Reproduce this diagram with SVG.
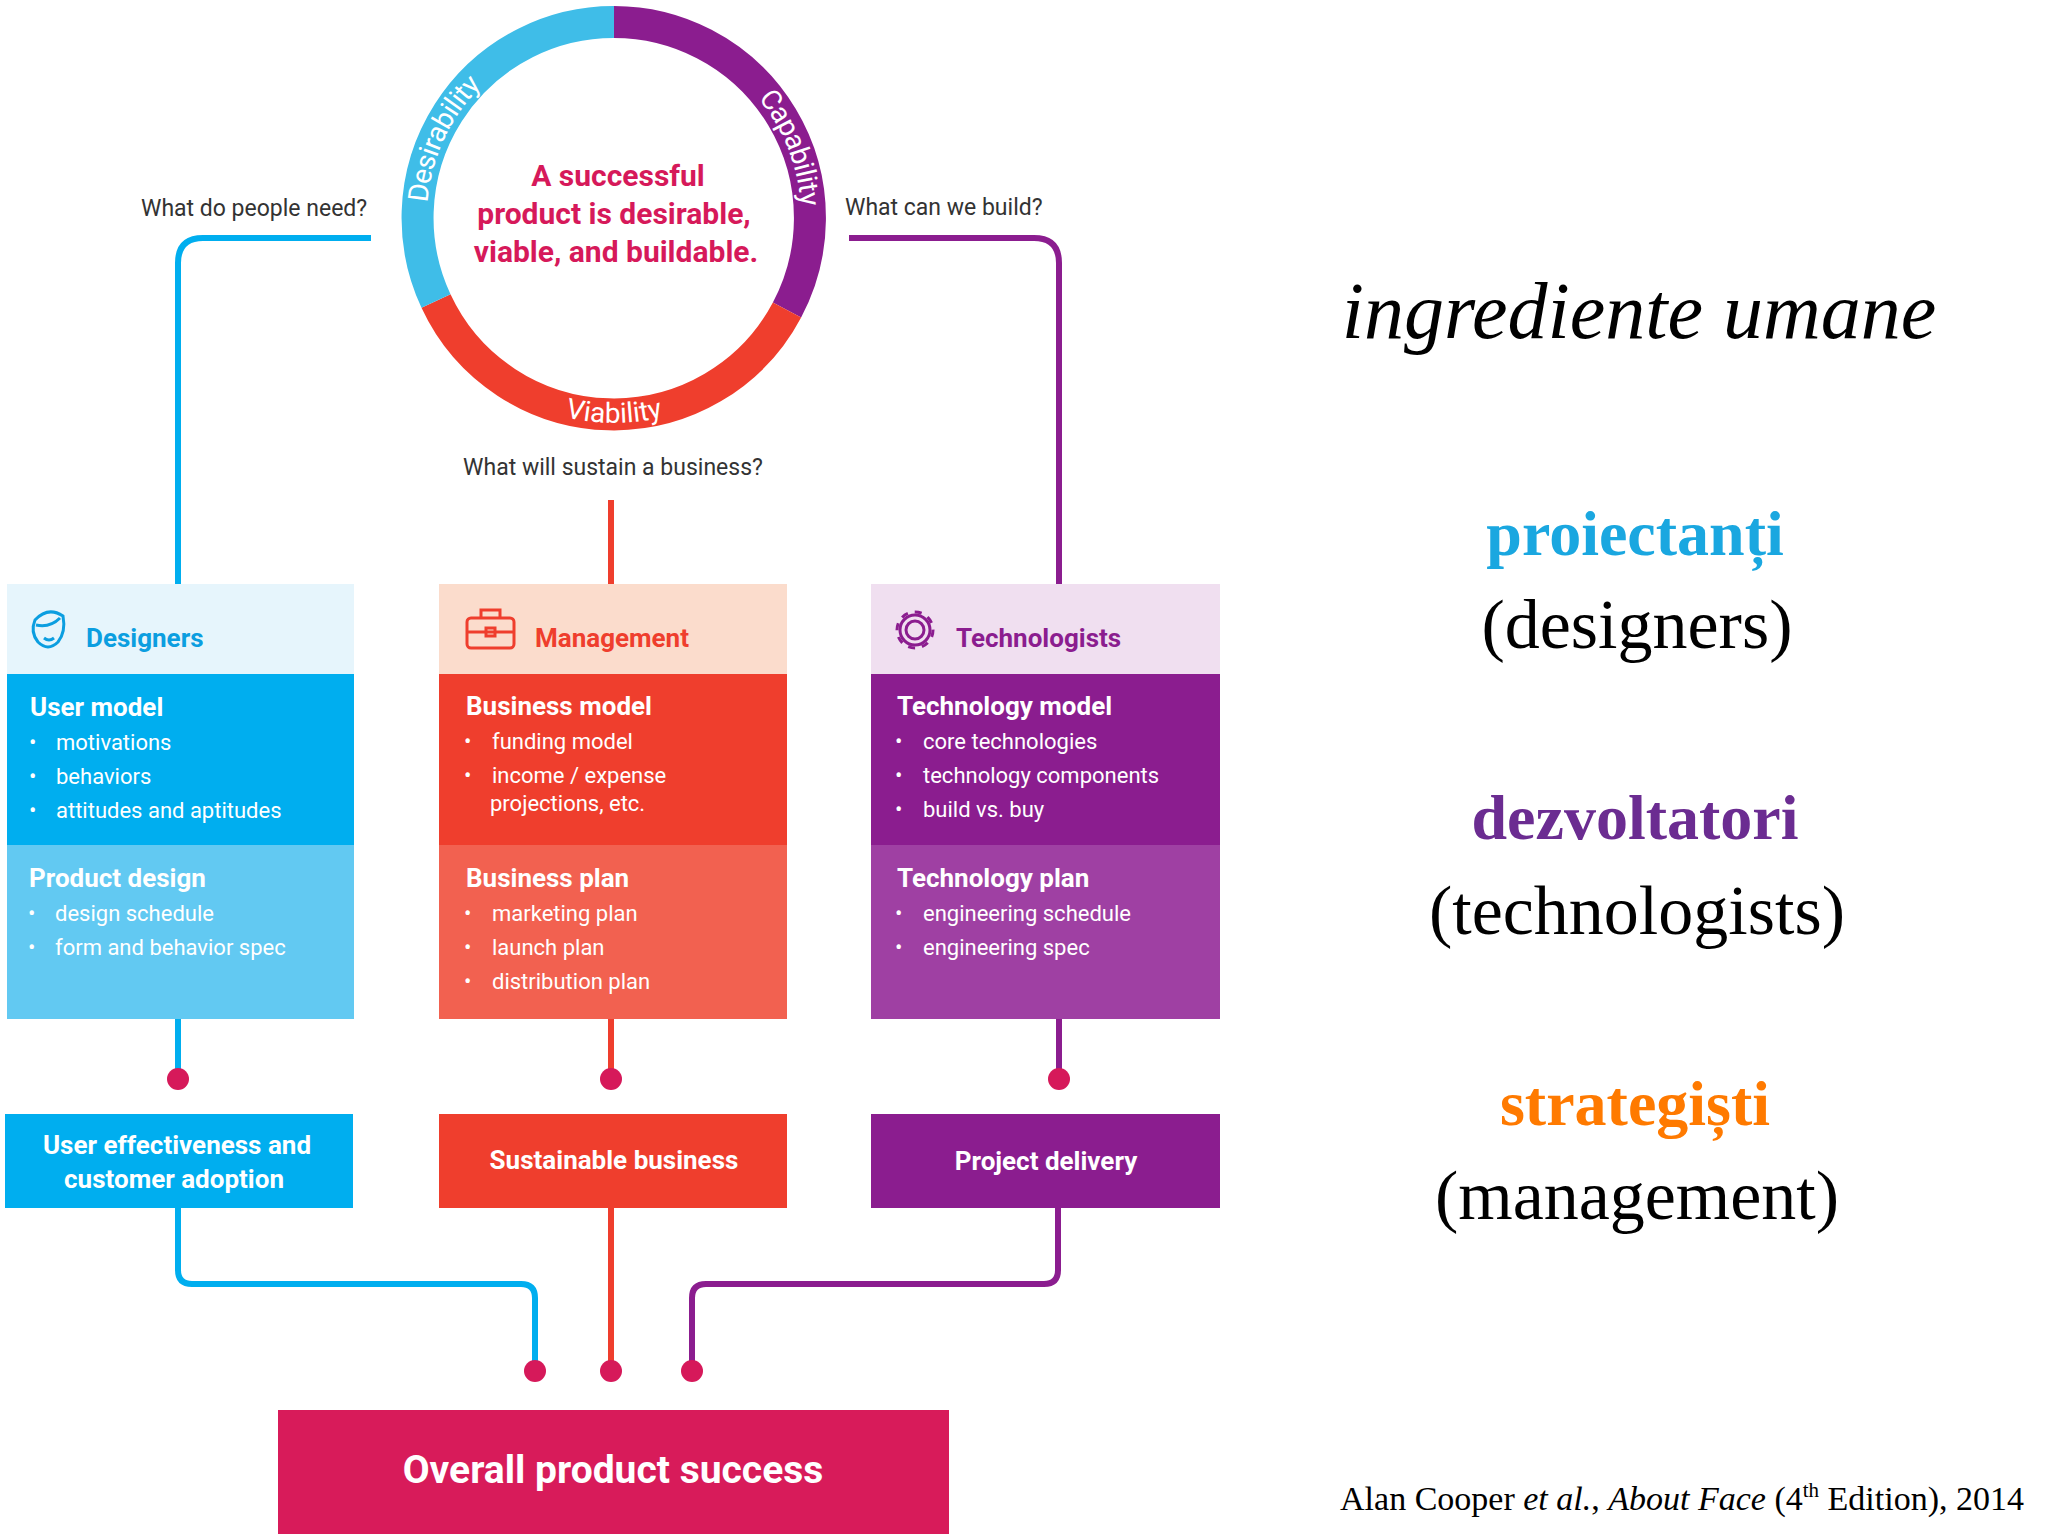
<svg xmlns="http://www.w3.org/2000/svg" xmlns:xlink="http://www.w3.org/1999/xlink" width="2048" height="1536" viewBox="0 0 2048 1536">
<style>
.q{font-family:Roboto,"Liberation Sans",sans-serif;font-size:23px;fill:#333}
.ring{font-family:Roboto,"Liberation Sans",sans-serif;font-size:28px;fill:#fff}
.ctr{font-family:Roboto,"Liberation Sans",sans-serif;font-size:30px;font-weight:bold;fill:#d6195a}
.hd{font-family:Roboto,"Liberation Sans",sans-serif;font-size:26px;font-weight:bold}
.t{font-family:Roboto,"Liberation Sans",sans-serif;font-size:26px;font-weight:bold;fill:#fff}
.b{font-family:Roboto,"Liberation Sans",sans-serif;font-size:22px;fill:#fff}
.o{font-family:Roboto,"Liberation Sans",sans-serif;font-size:26px;font-weight:bold;fill:#fff}
.ln{fill:none;stroke-width:6}
.rg{fill:none;stroke-width:32}
.dot{fill:#d6195a}
.r{font-family:"Liberation Serif",serif;text-anchor:middle}
</style>
<defs>
<path id="arcL" d="M 444 316 A 196 196 0 0 1 614 22"/>
<path id="arcR" d="M 614 22 A 196 196 0 0 1 784 316"/>
<path id="arcB" d="M 436.5 320.5 A 205 205 0 0 0 791.5 320.5"/>
</defs>
<rect width="2048" height="1536" fill="#fff"/>
<g id="circle">
<path d="M 614 22 A 196 196 0 0 1 787 310" class="rg" stroke="#8b1d8f"/>
<path d="M 787 310 A 196 196 0 0 1 436 301" class="rg" stroke="#ef3e2d"/>
<path d="M 436 301 A 196 196 0 0 1 614 22" class="rg" stroke="#3fbde8"/>
<text class="ring" dy="9"><textPath xlink:href="#arcL" startOffset="29%">Desirability</textPath></text>
<text class="ring" dy="9"><textPath xlink:href="#arcR" startOffset="42%">Capability</textPath></text>
<text class="ring"><textPath xlink:href="#arcB" startOffset="50%" text-anchor="middle">Viability</textPath></text>
<text class="ctr" x="618" y="186" text-anchor="middle">A successful</text>
<text class="ctr" x="614" y="224" text-anchor="middle">product is desirable,</text>
<text class="ctr" x="616" y="262" text-anchor="middle">viable, and buildable.</text>
</g>
<g id="questions">
<text class="q" x="141" y="216">What do people need?</text>
<text class="q" x="845" y="215">What can we build?</text>
<text class="q" x="613" y="475" text-anchor="middle">What will sustain a business?</text>
</g>
<g id="connectors">
<path class="ln" stroke="#00aeef" d="M 371 238 H 203 Q 178 238 178 263 V 584"/>
<path class="ln" stroke="#8b1d8f" d="M 849 238 H 1034 Q 1059 238 1059 263 V 584"/>
<path class="ln" stroke="#ef3e2d" d="M 611 500 V 584"/>
<path class="ln" stroke="#00aeef" d="M 178 1019 V 1079"/>
<path class="ln" stroke="#ef3e2d" d="M 611 1019 V 1079"/>
<path class="ln" stroke="#8b1d8f" d="M 1059 1019 V 1079"/>
<circle class="dot" cx="178" cy="1079" r="11"/>
<circle class="dot" cx="611" cy="1079" r="11"/>
<circle class="dot" cx="1059" cy="1079" r="11"/>
<path class="ln" stroke="#00aeef" d="M 178 1208 V 1270 Q 178 1284 192 1284 H 521 Q 535 1284 535 1298 V 1371"/>
<path class="ln" stroke="#ef3e2d" d="M 611 1208 V 1371"/>
<path class="ln" stroke="#8b1d8f" d="M 1058 1208 V 1270 Q 1058 1284 1044 1284 H 706 Q 692 1284 692 1298 V 1371"/>
<circle class="dot" cx="535" cy="1371" r="11"/>
<circle class="dot" cx="611" cy="1371" r="11"/>
<circle class="dot" cx="692" cy="1371" r="11"/>
</g>
<g id="designers">
<rect x="7" y="584" width="347" height="90" fill="#e6f5fc"/>
<rect x="7" y="674" width="347" height="171" fill="#00aeef"/>
<rect x="7" y="845" width="347" height="174" fill="#62c9f2"/>
<g fill="none" stroke="#0b9ee0" stroke-width="3"><path d="M 35 620 Q 48 606 63 616 Q 66 632 58 642 Q 48 652 38 642 Q 30 632 35 620 Z"/><path d="M 36 625 Q 50 628 60 618"/><path d="M 44 638 Q 49 642 54 638"/></g>
<text class="hd" x="86" y="647" fill="#0b9ee0">Designers</text>
<text class="t" x="30" y="716">User model</text>
<g class="b"><text x="29" y="750">•</text><text x="56" y="750">motivations</text><text x="29" y="784">•</text><text x="56" y="784">behaviors</text><text x="29" y="818">•</text><text x="56" y="818">attitudes and aptitudes</text></g>
<text class="t" x="29" y="887">Product design</text>
<g class="b"><text x="28" y="921">•</text><text x="55" y="921">design schedule</text><text x="28" y="955">•</text><text x="55" y="955">form and behavior spec</text></g>
</g>
<g id="management">
<rect x="439" y="584" width="348" height="90" fill="#fbdccc"/>
<rect x="439" y="674" width="348" height="171" fill="#ef3e2d"/>
<rect x="439" y="845" width="348" height="174" fill="#f26150"/>
<g fill="none" stroke="#ef3e2d" stroke-width="3"><rect x="467" y="618" width="47" height="30" rx="4"/><path d="M 481 618 V 610 H 500 V 618 M 467 632 H 514"/><rect x="486" y="628" width="9" height="8"/></g>
<text class="hd" x="535" y="647" fill="#ef3e2d">Management</text>
<text class="t" x="466" y="715">Business model</text>
<g class="b"><text x="464" y="749">•</text><text x="492" y="749">funding model</text><text x="464" y="783">•</text><text x="492" y="783">income / expense</text><text x="490" y="811">projections, etc.</text></g>
<text class="t" x="466" y="887">Business plan</text>
<g class="b"><text x="464" y="921">•</text><text x="492" y="921">marketing plan</text><text x="464" y="955">•</text><text x="492" y="955">launch plan</text><text x="464" y="989">•</text><text x="492" y="989">distribution plan</text></g>
</g>
<g id="technologists">
<rect x="871" y="584" width="349" height="90" fill="#f0dff0"/>
<rect x="871" y="674" width="349" height="171" fill="#8b1d8f"/>
<rect x="871" y="845" width="349" height="174" fill="#9f40a3"/>
<g fill="none" stroke="#8b1d8f" stroke-width="3"><circle cx="915" cy="630" r="9"/><circle cx="915" cy="630" r="18" stroke-dasharray="7 7"/><circle cx="915" cy="630" r="15"/></g>
<text class="hd" x="956" y="647" fill="#8b1d8f">Technologists</text>
<text class="t" x="897" y="715">Technology model</text>
<g class="b"><text x="895" y="749">•</text><text x="923" y="749">core technologies</text><text x="895" y="783">•</text><text x="923" y="783">technology components</text><text x="895" y="817">•</text><text x="923" y="817">build vs. buy</text></g>
<text class="t" x="897" y="887">Technology plan</text>
<g class="b"><text x="895" y="921">•</text><text x="923" y="921">engineering schedule</text><text x="895" y="955">•</text><text x="923" y="955">engineering spec</text></g>
</g>
<g id="outcomes">
<rect x="5" y="1114" width="348" height="94" fill="#00aeef"/>
<text class="o" x="177" y="1154" text-anchor="middle">User effectiveness and</text>
<text class="o" x="174" y="1188" text-anchor="middle">customer adoption</text>
<rect x="439" y="1114" width="348" height="94" fill="#ef3e2d"/>
<text class="o" x="614" y="1169" text-anchor="middle">Sustainable business</text>
<rect x="871" y="1114" width="349" height="94" fill="#8b1d8f"/>
<text class="o" x="1046" y="1170" text-anchor="middle">Project delivery</text>
</g>
<g id="overall">
<rect x="278" y="1410" width="671" height="124" fill="#d81b5a"/>
<text x="613" y="1483" text-anchor="middle" style="font-family:Roboto,'Liberation Sans',sans-serif;font-size:39px;font-weight:bold;fill:#fff">Overall product success</text>
</g>
<g id="right">
<text class="r" x="1639" y="338" font-size="80" font-style="italic">ingrediente umane</text>
<text class="r" x="1635" y="555" font-size="64" font-weight="bold" fill="#1aa7e0">proiectanți</text>
<text class="r" x="1637" y="648" font-size="70">(designers)</text>
<text class="r" x="1635" y="839" font-size="64" font-weight="bold" fill="#6b2c91">dezvoltatori</text>
<text class="r" x="1637" y="934" font-size="70">(technologists)</text>
<text class="r" x="1635" y="1125" font-size="64" font-weight="bold" fill="#ff7a00">strategiști</text>
<text class="r" x="1637" y="1219" font-size="70">(management)</text>
<text x="2024" y="1510" text-anchor="end" style="font-family:'Liberation Serif',serif;font-size:34px">Alan Cooper <tspan font-style="italic">et al.</tspan>, <tspan font-style="italic">About Face</tspan> (4<tspan font-size="21" dy="-13">th</tspan><tspan dy="13"> Edition), 2014</tspan></text>
</g>
</svg>
